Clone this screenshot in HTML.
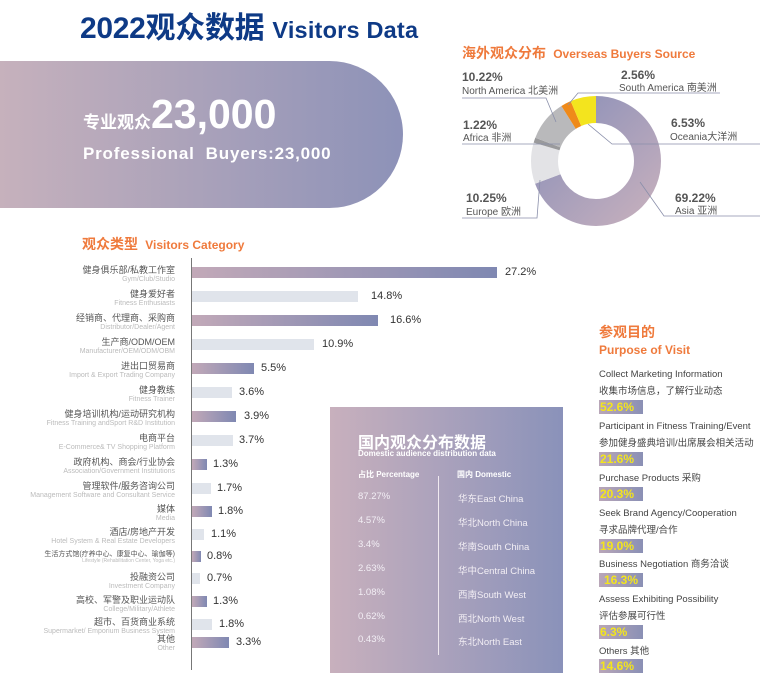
<!DOCTYPE html>
<html><head><meta charset="utf-8"><style>
*{margin:0;padding:0;box-sizing:border-box}
body{width:771px;height:699px;background:#fff;position:relative;overflow:hidden;font-family:"Liberation Sans","Noto Sans CJK SC",sans-serif}
.a{position:absolute;white-space:nowrap}
.lab{position:absolute;right:596px;text-align:right;line-height:1}
.lab .c{font-size:9px;color:#555}
.lab .e{font-size:7px;color:#bbb;margin-top:1px}
.bar{position:absolute;left:192px;height:11px}
.p{background:linear-gradient(90deg,#c2a9b8,#7f88b2)}
.g{background:#e0e4eb}
.v{position:absolute;font-size:11px;color:#333}
.pt{position:absolute;left:599px;font-size:9.5px;color:#444;line-height:1}
.pv{position:absolute;left:599px;width:44px;height:14px;background:linear-gradient(90deg,#b9a6b8,#8a90b5);color:#f3e51c;font-weight:bold;font-size:12px;line-height:14px;padding-left:1px}
.dl{position:absolute;font-size:9.5px;color:#f2eef4}
</style></head><body>
<div class="a" style="left:80px;top:3px;font-size:30px;font-weight:bold;color:#0e3a86;letter-spacing:-0.3px">2022观众数据 <span style="font-size:23.5px;letter-spacing:0.2px">Visitors Data</span></div>
<div class="a" style="left:0;top:61px;width:403px;height:147px;border-radius:0 74px 74px 0;background:linear-gradient(90deg,#c6b1bc,#8d92b8)"></div>
<div class="a" style="left:83px;top:91px;color:#fff;font-weight:bold"><span style="font-size:17px">专业观众</span><span style="font-size:41px">23,000</span></div>
<div class="a" style="left:83px;top:144px;color:#fff;font-weight:bold;font-size:17px;letter-spacing:0.8px">Professional&nbsp; Buyers:23,000</div>
<div class="a" style="left:82px;top:234px;color:#ef7a3c;font-weight:bold;font-size:14px">观众类型 <span style="font-size:12px">&nbsp;Visitors Category</span></div>

<div class="a" style="left:191px;top:258px;width:1px;height:412px;background:#777"></div>
<div class="lab" style="top:266px"><div class="c">健身俱乐部/私教工作室</div><div class="e">Gym/Club/Studio</div></div>
<div class="bar p" style="top:267px;width:305px"></div><div class="v" style="left:505px;top:266px">27.2%</div>
<div class="lab" style="top:290px"><div class="c">健身爱好者</div><div class="e">Fitness Enthusiasts</div></div>
<div class="bar g" style="top:291px;width:166px"></div><div class="v" style="left:371px;top:290px">14.8%</div>
<div class="lab" style="top:314px"><div class="c">经销商、代理商、采购商</div><div class="e">Distributor/Dealer/Agent</div></div>
<div class="bar p" style="top:315px;width:186px"></div><div class="v" style="left:390px;top:314px">16.6%</div>
<div class="lab" style="top:338px"><div class="c">生产商/ODM/OEM</div><div class="e">Manufacturer/OEM/ODM/OBM</div></div>
<div class="bar g" style="top:339px;width:122px"></div><div class="v" style="left:322px;top:338px">10.9%</div>
<div class="lab" style="top:362px"><div class="c">进出口贸易商</div><div class="e">Import &amp; Export Trading Company</div></div>
<div class="bar p" style="top:363px;width:62px"></div><div class="v" style="left:261px;top:362px">5.5%</div>
<div class="lab" style="top:386px"><div class="c">健身教练</div><div class="e">Fitness Trainer</div></div>
<div class="bar g" style="top:387px;width:40px"></div><div class="v" style="left:239px;top:386px">3.6%</div>
<div class="lab" style="top:410px"><div class="c">健身培训机构/运动研究机构</div><div class="e">Fitness Training andSport R&amp;D Institution</div></div>
<div class="bar p" style="top:411px;width:44px"></div><div class="v" style="left:244px;top:410px">3.9%</div>
<div class="lab" style="top:434px"><div class="c">电商平台</div><div class="e">E-Commerce&amp; TV Shopping Platform</div></div>
<div class="bar g" style="top:435px;width:41px"></div><div class="v" style="left:239px;top:434px">3.7%</div>
<div class="lab" style="top:458px"><div class="c">政府机构、商会/行业协会</div><div class="e">Association/Government Institutions</div></div>
<div class="bar p" style="top:459px;width:15px"></div><div class="v" style="left:213px;top:458px">1.3%</div>
<div class="lab" style="top:482px"><div class="c">管理软件/服务咨询公司</div><div class="e">Management Software and Consultant Service</div></div>
<div class="bar g" style="top:483px;width:19px"></div><div class="v" style="left:217px;top:482px">1.7%</div>
<div class="lab" style="top:505px"><div class="c">媒体</div><div class="e">Media</div></div>
<div class="bar p" style="top:506px;width:20px"></div><div class="v" style="left:218px;top:505px">1.8%</div>
<div class="lab" style="top:528px"><div class="c">酒店/房地产开发</div><div class="e">Hotel System &amp; Real Estate Developers</div></div>
<div class="bar g" style="top:529px;width:12px"></div><div class="v" style="left:211px;top:528px">1.1%</div>
<div class="lab" style="top:551px"><div class="c" style="font-size:7px">生活方式馆(疗养中心、康复中心、瑜伽等)</div><div class="e" style="font-size:5px">Lifestyle (Rehabilitation Center, Yoga etc.)</div></div>
<div class="bar p" style="top:551px;width:9px"></div><div class="v" style="left:207px;top:550px">0.8%</div>
<div class="lab" style="top:573px"><div class="c">投融资公司</div><div class="e">Investment Company</div></div>
<div class="bar g" style="top:573px;width:8px"></div><div class="v" style="left:207px;top:572px">0.7%</div>
<div class="lab" style="top:596px"><div class="c">高校、军警及职业运动队</div><div class="e">College/Military/Athlete</div></div>
<div class="bar p" style="top:596px;width:15px"></div><div class="v" style="left:213px;top:595px">1.3%</div>
<div class="lab" style="top:618px"><div class="c">超市、百货商业系统</div><div class="e">Supermarket/ Emporium Business System</div></div>
<div class="bar g" style="top:619px;width:20px"></div><div class="v" style="left:219px;top:618px">1.8%</div>
<div class="lab" style="top:635px"><div class="c">其他</div><div class="e">Other</div></div>
<div class="bar p" style="top:637px;width:37px"></div><div class="v" style="left:236px;top:636px">3.3%</div>

<div class="a" style="left:330px;top:407px;width:233px;height:266px;background:linear-gradient(90deg,#c8b0bd,#8a92ba)"></div>
<div class="a" style="left:358px;top:429px;color:#fff;font-weight:bold;font-size:16px">国内观众分布数据</div>
<div class="a" style="left:358px;top:449px;color:#fff;font-weight:bold;font-size:8px">Domestic audience distribution data</div>
<div class="a" style="left:358px;top:469px;color:#fff;font-weight:bold;font-size:8px">占比 Percentage</div>
<div class="a" style="left:457px;top:469px;color:#fff;font-weight:bold;font-size:8px">国内 Domestic</div>
<div class="a" style="left:438px;top:476px;width:1px;height:179px;background:#f0eaf0"></div>
<div class="dl" style="left:358px;top:491px">87.27%</div><div class="dl" style="left:458px;top:491px">华东East China</div>
<div class="dl" style="left:358px;top:515px">4.57%</div><div class="dl" style="left:458px;top:515px">华北North China</div>
<div class="dl" style="left:358px;top:539px">3.4%</div><div class="dl" style="left:458px;top:539px">华南South China</div>
<div class="dl" style="left:358px;top:563px">2.63%</div><div class="dl" style="left:458px;top:563px">华中Central China</div>
<div class="dl" style="left:358px;top:587px">1.08%</div><div class="dl" style="left:458px;top:587px">西南South West</div>
<div class="dl" style="left:358px;top:611px">0.62%</div><div class="dl" style="left:458px;top:611px">西北North West</div>
<div class="dl" style="left:358px;top:634px">0.43%</div><div class="dl" style="left:458px;top:634px">东北North East</div>

<div class="a" style="left:599px;top:322px;color:#ef7a3c;font-weight:bold;font-size:14px">参观目的</div>
<div class="a" style="left:599px;top:343px;color:#ef7a3c;font-weight:bold;font-size:12px">Purpose of Visit</div>
<div class="pt" style="top:370px">Collect Marketing Information</div>
<div class="pt" style="top:387px">收集市场信息，了解行业动态</div>
<div class="pv" style="top:400px">52.6%</div>
<div class="pt" style="top:422px">Participant in Fitness Training/Event</div>
<div class="pt" style="top:439px">参加健身盛典培训/出席展会相关活动</div>
<div class="pv" style="top:452px">21.6%</div>
<div class="pt" style="top:474px">Purchase Products 采购</div>
<div class="pv" style="top:487px">20.3%</div>
<div class="pt" style="top:509px">Seek Brand Agency/Cooperation</div>
<div class="pt" style="top:526px">寻求品牌代理/合作</div>
<div class="pv" style="top:539px">19.0%</div>
<div class="pt" style="top:560px">Business Negotiation 商务洽谈</div>
<div class="pv" style="top:573px;padding-left:5px">16.3%</div>
<div class="pt" style="top:595px">Assess Exhibiting Possibility</div>
<div class="pt" style="top:612px">评估参展可行性</div>
<div class="pv" style="top:625px">6.3%</div>
<div class="pt" style="top:647px">Others 其他</div>
<div class="pv" style="top:659px">14.6%</div>

<div class="a" style="left:462px;top:43px;color:#ef7a3c;font-weight:bold;font-size:14px">海外观众分布 <span style="font-size:12px">&nbsp;Overseas Buyers Source</span></div>
<svg class="a" style="left:0;top:0" width="771" height="699">
<defs><linearGradient id="ag" x1="0" y1="1" x2="1" y2="0"><stop offset="0" stop-color="#c3aebd"/><stop offset="1" stop-color="#8c90b8"/></linearGradient></defs>
<g transform="translate(596,161) rotate(-90)" fill="none" stroke-width="27">
<circle r="51.5" stroke="url(#ag)" stroke-dasharray="224 400"/>
<circle r="51.5" stroke="#e3e3e6" stroke-dasharray="0 224 33.2 400"/>
<circle r="51.5" stroke="#9a9a9c" stroke-dasharray="0 257.2 4 400"/>
<circle r="51.5" stroke="#b9b9bb" stroke-dasharray="0 261.2 33.1 400"/>
<circle r="51.5" stroke="#ef8a1a" stroke-dasharray="0 294.3 8.3 400"/>
<circle r="51.5" stroke="#f3e41e" stroke-dasharray="0 302.6 21.1 400"/>
</g>
<g stroke="#8a8faa" stroke-width="0.8" fill="none">
<polyline points="462,98 546,98 556,122"/>
<polyline points="462,144 560,144"/>
<polyline points="462,218 537,218 540,180"/>
<polyline points="720,93 578,93 568,105"/>
<polyline points="760,144 612,144 588,124"/>
<polyline points="760,216 664,216 640,182"/>
</g>
<g font-family="Liberation Sans,Noto Sans CJK SC,sans-serif" fill="#555">
<text x="462" y="81" font-size="12" font-weight="bold">10.22%</text>
<text x="462" y="94" font-size="10">North America  北美洲</text>
<text x="621" y="79" font-size="12" font-weight="bold">2.56%</text>
<text x="619" y="91" font-size="10">South America 南美洲</text>
<text x="463" y="129" font-size="12" font-weight="bold">1.22%</text>
<text x="463" y="141" font-size="10">Africa 非洲</text>
<text x="671" y="127" font-size="12" font-weight="bold">6.53%</text>
<text x="670" y="140" font-size="10">Oceania大洋洲</text>
<text x="466" y="202" font-size="12" font-weight="bold">10.25%</text>
<text x="466" y="215" font-size="10">Europe 欧洲</text>
<text x="675" y="202" font-size="12" font-weight="bold">69.22%</text>
<text x="675" y="214" font-size="10">Asia 亚洲</text>
</g>
</svg>
</body></html>
